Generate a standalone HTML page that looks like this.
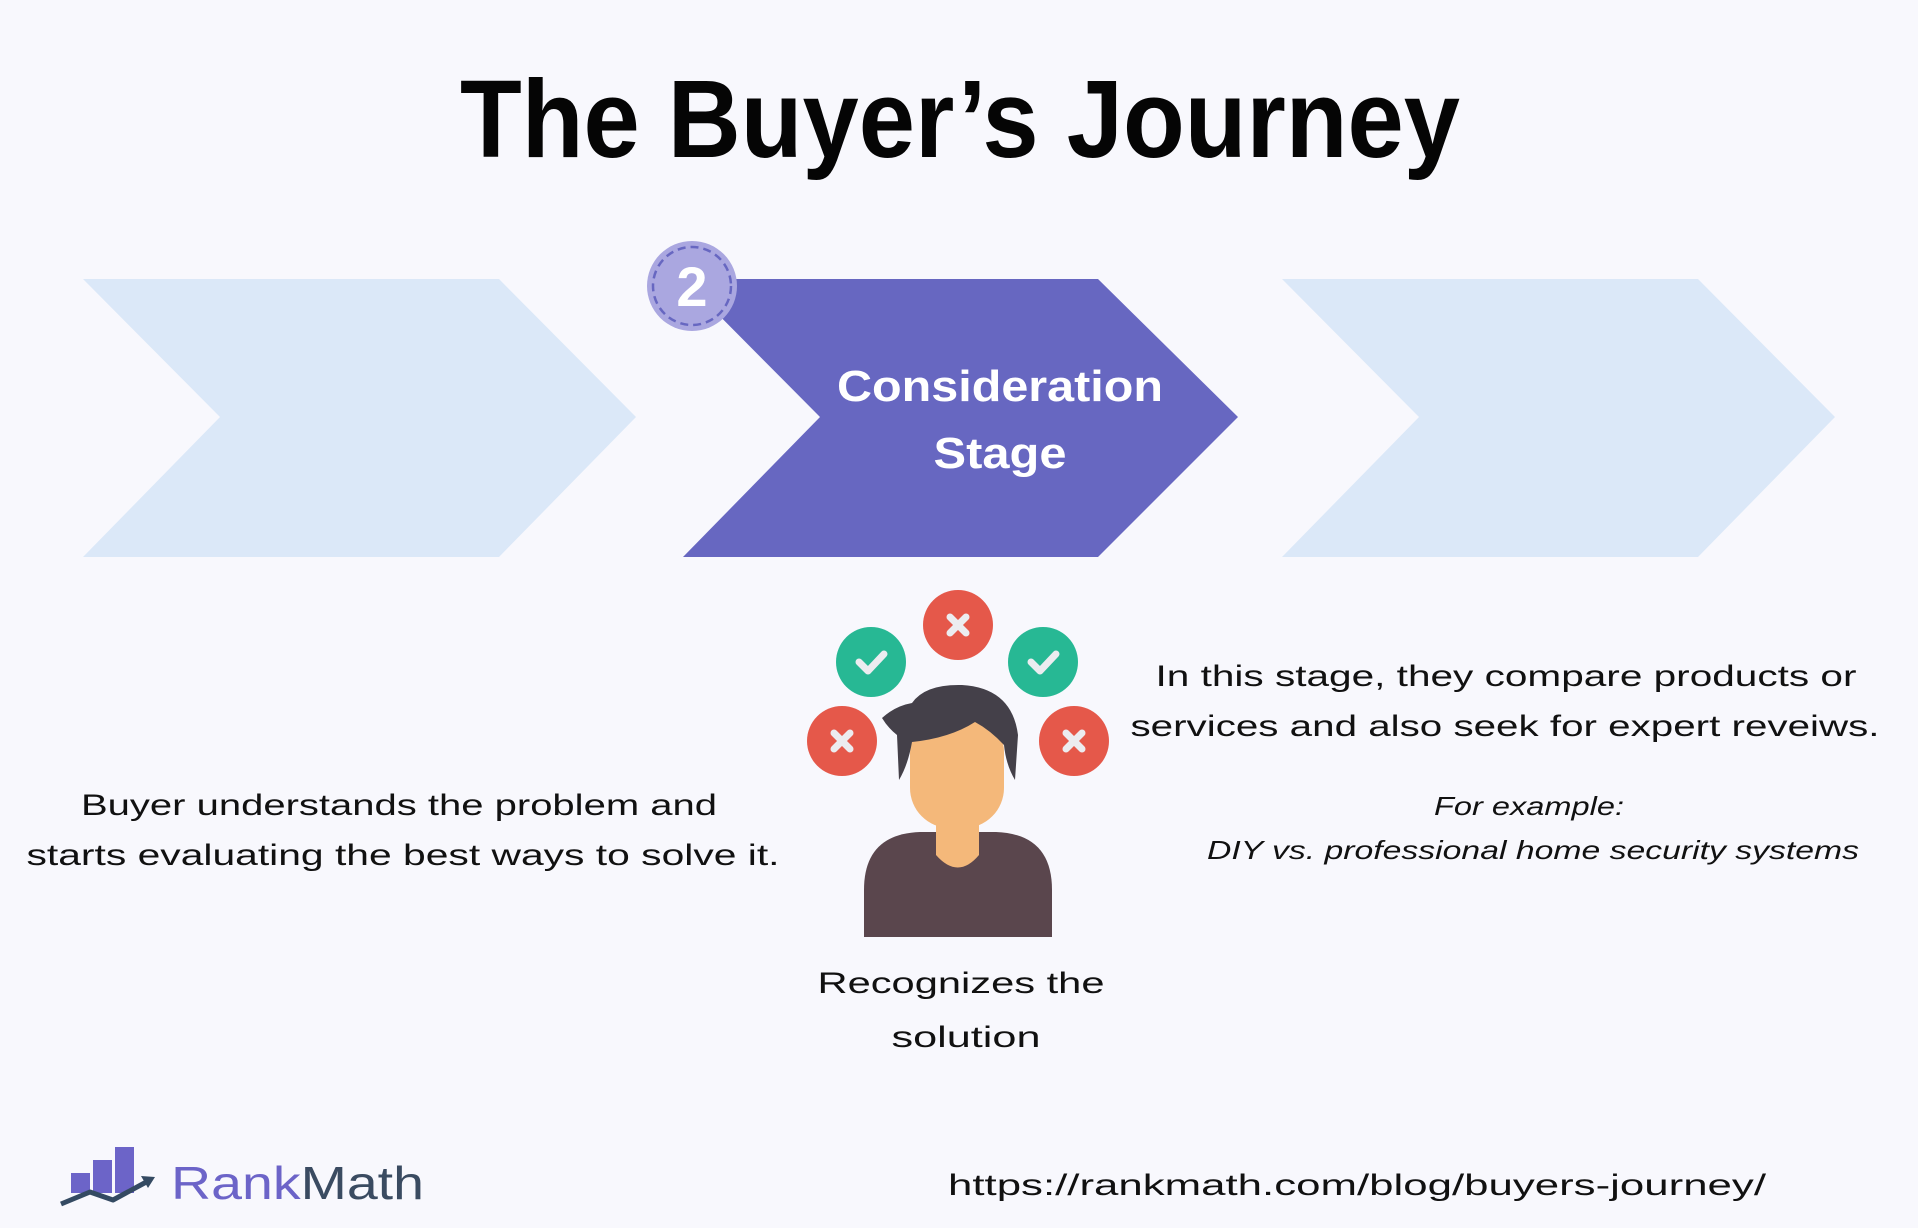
<!DOCTYPE html>
<html><head><meta charset="utf-8"><style>
html,body{margin:0;padding:0;background:#f8f8fd;}
svg{display:block}
text{font-family:"Liberation Sans",sans-serif}
</style></head><body>
<svg width="1918" height="1228" viewBox="0 0 1918 1228" xmlns="http://www.w3.org/2000/svg">
<rect width="1918" height="1228" fill="#f8f8fd"/>
<text x="960" y="157" text-anchor="middle" font-size="110" font-weight="bold" fill="#050505" textLength="1000" lengthAdjust="spacingAndGlyphs">The Buyer’s Journey</text>
<polygon points="83,279 499,279 636,417 499,557 83,557 220,417" fill="#dbe8f8"/>
<polygon points="1282,279 1698,279 1835,417 1698,557 1282,557 1419,417" fill="#dbe8f8"/>
<polygon points="683,279 1098,279 1238,417 1098,557 683,557 820,417" fill="#6767c1"/>
<circle cx="692" cy="286" r="45" fill="#aaa7e0"/>
<circle cx="692" cy="286" r="39" fill="none" stroke="#6767c1" stroke-width="2.5" stroke-dasharray="8 5"/>
<text x="692" y="306" text-anchor="middle" font-size="56" font-weight="bold" fill="#fff">2</text>
<text x="1000" y="401" text-anchor="middle" font-size="44" font-weight="bold" fill="#fff" textLength="326" lengthAdjust="spacingAndGlyphs">Consideration</text>
<text x="1000" y="468" text-anchor="middle" font-size="44" font-weight="bold" fill="#fff" textLength="133" lengthAdjust="spacingAndGlyphs">Stage</text>
<!-- person -->
<g>
<circle cx="871" cy="662" r="35" fill="#27b894"/>
<circle cx="1043" cy="662" r="35" fill="#27b894"/>
<circle cx="958" cy="625" r="35" fill="#e5584a"/>
<circle cx="842" cy="741" r="35" fill="#e5584a"/>
<circle cx="1074" cy="741" r="35" fill="#e5584a"/>
<polyline points="859,662 868,671 884,654" fill="none" stroke="#ececf0" stroke-width="7" stroke-linecap="round" stroke-linejoin="round"/>
<polyline points="1031,662 1040,671 1056,654" fill="none" stroke="#ececf0" stroke-width="7" stroke-linecap="round" stroke-linejoin="round"/>
<g stroke="#ececf0" stroke-width="7" stroke-linecap="round">
<line x1="950" y1="617" x2="966" y2="633"/><line x1="966" y1="617" x2="950" y2="633"/>
<line x1="834" y1="733" x2="850" y2="749"/><line x1="850" y1="733" x2="834" y2="749"/>
<line x1="1066" y1="733" x2="1082" y2="749"/><line x1="1082" y1="733" x2="1066" y2="749"/>
</g>
<path d="M864,937 L864,890 Q864,834 920,832 L996,832 Q1052,834 1052,890 L1052,937 Z" fill="#5a464d"/>
<path d="M936,807 L979,807 L979,855 Q958,880 936,855 Z" fill="#f4b87a"/>
<rect x="910" y="712" width="94" height="116" rx="40" fill="#f4b87a"/>
<path d="M899,780 L897,735 Q888,728 882,718 Q895,706 912,703 Q925,684 962,685 Q1012,688 1018,735 L1015,780 Q1006,765 1004,745 Q990,730 975,722 Q950,738 912,742 Q908,765 899,780 Z" fill="#444049"/>
</g>
<g font-size="30" fill="#111" text-anchor="middle">
<text x="399" y="815" textLength="636" lengthAdjust="spacingAndGlyphs">Buyer understands the problem and</text>
<text x="403" y="865" textLength="753" lengthAdjust="spacingAndGlyphs">starts evaluating the best ways to solve it.</text>
<text x="1506" y="686" textLength="701" lengthAdjust="spacingAndGlyphs">In this stage, they compare products or</text>
<text x="1505" y="736" textLength="749" lengthAdjust="spacingAndGlyphs">services and also seek for expert reveiws.</text>
<text x="961" y="993" textLength="287" lengthAdjust="spacingAndGlyphs">Recognizes the</text>
<text x="966" y="1047" textLength="149" lengthAdjust="spacingAndGlyphs">solution</text>
<text x="1357" y="1195" textLength="818" lengthAdjust="spacingAndGlyphs">https://rankmath.com/blog/buyers-journey/</text>
</g>
<g font-size="26" font-style="italic" fill="#111" text-anchor="middle">
<text x="1529" y="815" textLength="190" lengthAdjust="spacingAndGlyphs">For example:</text>
<text x="1533" y="859" textLength="652" lengthAdjust="spacingAndGlyphs">DIY vs. professional home security systems</text>
</g>
<!-- logo -->
<rect x="71" y="1173" width="19" height="20" fill="#6c64c8"/>
<rect x="93" y="1160" width="19" height="33" fill="#6c64c8"/>
<rect x="115" y="1147" width="19" height="46" fill="#6c64c8"/>
<polyline points="61,1204 90,1192 113,1200 150,1180" fill="none" stroke="#344a62" stroke-width="5" stroke-linejoin="round"/>
<polygon points="155,1177 141,1176 148,1188" fill="#344a62"/>
<text x="171" y="1199" font-size="46" fill="#6c64c8" textLength="253" lengthAdjust="spacingAndGlyphs">Rank<tspan fill="#3a4b61">Math</tspan></text>
</svg>
</body></html>
